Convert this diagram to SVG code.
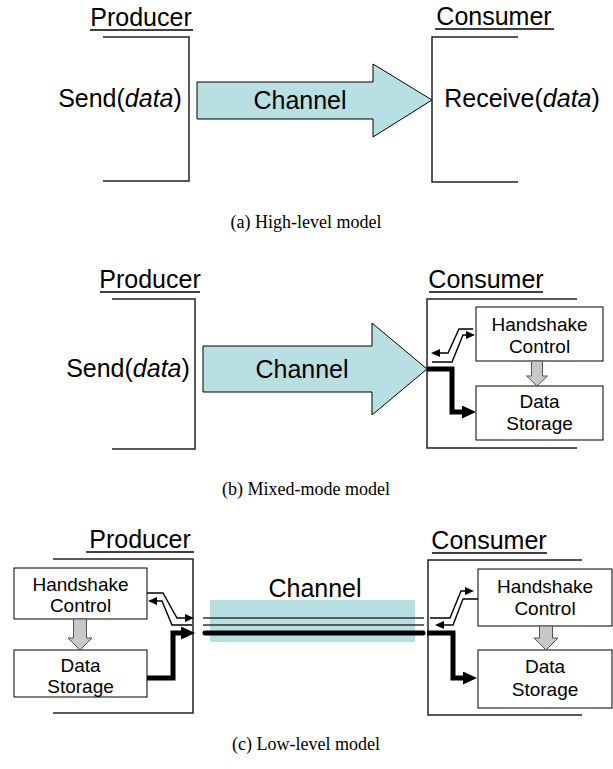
<svg xmlns="http://www.w3.org/2000/svg" width="613" height="769" viewBox="0 0 613 769">
<style>
.lbl{font-family:"Liberation Sans",Arial,sans-serif;fill:#000;text-anchor:middle}
.big{font-size:25px}
.sm{font-size:19px}
.cap{font-family:"Liberation Serif","Times New Roman",serif;font-size:18px;fill:#000;text-anchor:middle}
.br{fill:none;stroke:#222;stroke-width:1.5}
.ul{stroke:#000;stroke-width:1.6}
.ch{fill:#b8dfe2;stroke:#000;stroke-width:1}
.box{fill:#fff;stroke:#000;stroke-width:1}
.ga{fill:#c8c8c8;stroke:#555;stroke-width:1}
.thin{fill:none;stroke:#000;stroke-width:1.4}
.thick{fill:none;stroke:#000;stroke-width:5}
.wire{stroke:#333;stroke-width:1.5}
</style>
<defs>
<marker id="ah" markerUnits="userSpaceOnUse" markerWidth="9" markerHeight="8" refX="1" refY="4" orient="auto-start-reverse">
<path d="M0,0 L9,4 L0,8 z" fill="#000"/>
</marker>
<marker id="ahT" markerUnits="userSpaceOnUse" markerWidth="14" markerHeight="13" refX="0" refY="6.5" orient="auto">
<path d="M0,0 L14,6.5 L0,13 z" fill="#000"/>
</marker>
</defs>

<!-- (a) High-level model -->
<g id="a-producer">
<path class="br" d="M103,37 H189 V181 H103"/>
<text class="lbl big" x="141" y="26">Producer</text>
<line class="ul" x1="90" y1="30" x2="193" y2="30"/>
<text class="lbl big" x="120" y="107">Send(<tspan font-style="italic">data</tspan>)</text>
</g>
<g id="a-channel">
<polygon class="ch" points="197,82 373,82 373,64 432,100 373,137 373,119 197,119"/>
<text class="lbl big" x="300" y="109">Channel</text>
</g>
<g id="a-consumer">
<path class="br" d="M518,37 H432 V182 H518"/>
<text class="lbl big" x="494" y="25">Consumer</text>
<line class="ul" x1="435" y1="29" x2="554" y2="29"/>
<text class="lbl big" x="522" y="107">Receive(<tspan font-style="italic">data</tspan>)</text>
</g>
<text id="cap-a" class="cap" x="306" y="228">(a) High-level model</text>

<!-- (b) Mixed-mode model -->
<g id="b-producer">
<path class="br" d="M112,299 H195 V449 H112"/>
<text class="lbl big" x="150" y="288">Producer</text>
<line class="ul" x1="100" y1="292" x2="200" y2="292"/>
<text class="lbl big" x="128" y="377">Send(<tspan font-style="italic">data</tspan>)</text>
</g>
<g id="b-channel">
<polygon class="ch" points="203,346 372,346 372,323 427,369 372,415 372,392 203,392"/>
<text class="lbl big" x="302" y="378">Channel</text>
</g>
<g id="b-consumer">
<path class="br" d="M577,299 H427 V448 H577"/>
<text class="lbl big" x="486" y="288">Consumer</text>
<line class="ul" x1="429" y1="292" x2="543" y2="292"/>
</g>
<g id="b-handshake">
<rect class="box" x="476" y="307" width="127" height="54"/>
<text class="lbl sm" x="539.5" y="331">Handshake</text>
<text class="lbl sm" x="539.5" y="353">Control</text>
</g>
<g id="b-storage">
<rect class="box" x="476" y="386" width="127" height="54"/>
<text class="lbl sm" x="539.5" y="408">Data</text>
<text class="lbl sm" x="539.5" y="430">Storage</text>
</g>
<text id="cap-b" class="cap" x="306" y="495">(b) Mixed-mode model</text>

<!-- (c) Low-level model -->
<g id="c-producer">
<path class="br" d="M53,559 H193 V713 H53"/>
<text class="lbl big" x="140" y="548">Producer</text>
<line class="ul" x1="86" y1="552" x2="194" y2="552"/>
</g>
<g id="c-p-handshake">
<rect class="box" x="14" y="568" width="133" height="51"/>
<text class="lbl sm" x="80.5" y="591">Handshake</text>
<text class="lbl sm" x="80.5" y="612">Control</text>
</g>
<g id="c-p-storage">
<rect class="box" x="14" y="650" width="133" height="47"/>
<text class="lbl sm" x="80.5" y="672">Data</text>
<text class="lbl sm" x="80.5" y="693">Storage</text>
</g>
<g id="c-channel">
<rect x="210" y="600" width="205" height="42" fill="#b8dfe2"/>
<text class="lbl big" x="315" y="597">Channel</text>
</g>
<g id="c-consumer">
<path class="br" d="M582,560 H428 V715 H582"/>
<text class="lbl big" x="489" y="549">Consumer</text>
<line class="ul" x1="432" y1="553" x2="547" y2="553"/>
</g>
<g id="c-c-handshake">
<rect class="box" x="478" y="569" width="134" height="57"/>
<text class="lbl sm" x="545" y="593">Handshake</text>
<text class="lbl sm" x="545" y="615">Control</text>
</g>
<g id="c-c-storage">
<rect class="box" x="478" y="650" width="134" height="58"/>
<text class="lbl sm" x="545" y="673">Data</text>
<text class="lbl sm" x="545" y="696">Storage</text>
</g>
<text id="cap-c" class="cap" x="306" y="750">(c) Low-level model</text>

<!-- connectors -->
<g id="connectors">
<!-- gray internal arrows -->
<polygon class="ga" points="531.5,361 542.5,361 542.5,376 547.5,376 537,386 526.5,376 531.5,376"/>
<polygon class="ga" points="73.5,619 86.5,619 86.5,638 92,638 80,650 68,638 73.5,638"/>
<polygon class="ga" points="539.5,626 552.5,626 552.5,638 558,638 546,650 534,638 539.5,638"/>

<!-- (b) consumer wiring -->
<path class="thick" d="M427,369 H452 V412 H462" marker-end="url(#ahT)"/>
<path class="thin" d="M439,353 H448 L459,329 H473" marker-start="url(#ah)"/>
<path class="thin" d="M432,362 H452 L463,335 H467" marker-end="url(#ah)"/>

<!-- (c) producer wiring -->
<path class="thick" d="M147,678 H173 V633 H181" marker-end="url(#ahT)"/>
<path class="thin" d="M147,593 H163 L177,618 H186" marker-end="url(#ah)"/>
<path class="thin" d="M156,601 H162 L172,625 H192" marker-start="url(#ah)"/>

<!-- (c) channel wires -->
<line class="wire" x1="203" y1="618" x2="424" y2="618"/>
<line class="wire" x1="203" y1="625" x2="424" y2="625"/>
<line x1="205" y1="633" x2="423" y2="633" stroke="#000" stroke-width="5" stroke-linecap="round"/>

<!-- (c) consumer wiring -->
<path class="thick" d="M427,633 H453 V678 H463" marker-end="url(#ahT)"/>
<path class="thin" d="M430,618 H450 L461,591 H466" marker-end="url(#ah)"/>
<path class="thin" d="M443,625 H453 L463,599 H478" marker-start="url(#ah)"/>
</g>
</svg>
